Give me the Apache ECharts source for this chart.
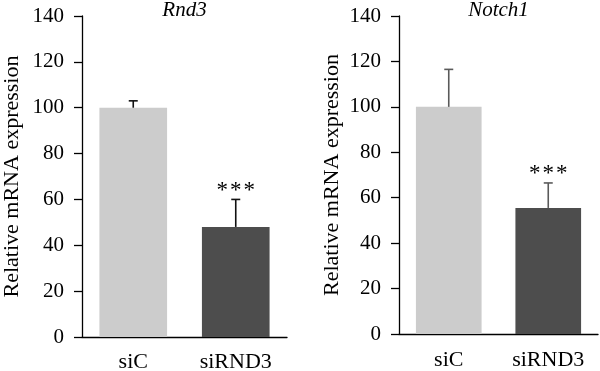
<!DOCTYPE html>
<html><head><meta charset="utf-8">
<script src="https://cdn.jsdelivr.net/npm/echarts@6/dist/echarts.min.js"></script>
<style>html,body{margin:0;padding:0;background:#fff}#c{width:600px;height:371px}</style>
</head><body><div id="c"></div>
<script>
const categories = ['siC', 'siRND3'];
const panelTitles = ['Rnd3', 'Notch1'];
const rnd3Mean = [100, 48];
const rnd3Err = [3, 12];
const notch1Mean = [100, 55.5];
const notch1Err = [16.5, 11];
const significance = ['', '***'];
const yMin = 0, yMax = 140, yStep = 20;
const yName = 'Relative mRNA expression';

const FONT = '"Liberation Serif", "DejaVu Serif", serif';
const barColors = ['#cccccc', '#4d4d4d'];
const errColors = ['#111111', '#5a5a5a'];
const grids = [
  {left: 82, width: 205, top: 16, height: 321, containLabel: false, outerBoundsMode: 'none'},
  {left: 399, width: 199, top: 16, height: 318, containLabel: false, outerBoundsMode: 'none'}
];
const means = [rnd3Mean, notch1Mean];
const errs = [rnd3Err, notch1Err];
const nameGaps = [59, 56];
const xLabelMargins = [14, 15];

const chart = echarts.init(document.getElementById('c'), null, {renderer: 'canvas'});
const option = {
  animation: false,
  backgroundColor: '#fff',
  title: panelTitles.map((t, i) => ({
    text: t, left: grids[i].left + grids[i].width / 2, textAlign: 'center', top: 0, padding: 0,
    textStyle: {fontFamily: FONT, fontSize: 21, fontStyle: 'italic', fontWeight: 'normal', color: '#000'}
  })),
  grid: grids,
  xAxis: grids.map((g, i) => ({
    type: 'category', gridIndex: i, data: categories,
    axisLine: {lineStyle: {color: '#000', width: 1.3}},
    axisTick: {show: false},
    axisLabel: {fontFamily: FONT, fontSize: 22, color: '#000', margin: xLabelMargins[i]}
  })),
  yAxis: grids.map((g, i) => ({
    type: 'value', gridIndex: i, min: yMin, max: yMax, interval: yStep,
    name: yName, nameLocation: 'middle', nameGap: nameGaps[i], nameRotate: 90,
    nameTextStyle: {fontFamily: FONT, fontSize: 22, color: '#000'},
    axisLine: {show: true, lineStyle: {color: '#000', width: 1.3}},
    axisTick: {show: true, inside: false, length: 8, lineStyle: {color: '#000', width: 1.3}},
    axisLabel: {fontFamily: FONT, fontSize: 21, color: '#000', margin: 18},
    splitLine: {show: false}
  })),
  series: []
};
for (let i = 0; i < 2; i++) {
  option.series.push({
    type: 'bar', xAxisIndex: i, yAxisIndex: i, barWidth: '66%',
    data: means[i].map((v, k) => ({value: v, itemStyle: {color: barColors[k]}}))
  });
  option.series.push({
    type: 'custom', xAxisIndex: i, yAxisIndex: i, z: 5,
    data: means[i].map((v, k) => [k, v, v + errs[i][k]]),
    renderItem: (params, api) => {
      const base = api.coord([api.value(0), api.value(1)]);
      const top = api.coord([api.value(0), api.value(2)]);
      const capHalf = 4.5;
      const children = [
        {type: 'line', shape: {x1: base[0], y1: base[1], x2: top[0], y2: top[1]}, style: {stroke: errColors[i], lineWidth: 1.6}},
        {type: 'line', shape: {x1: top[0] - capHalf, y1: top[1], x2: top[0] + capHalf, y2: top[1]}, style: {stroke: errColors[i], lineWidth: 1.6}}
      ];
      const sig = significance[params.dataIndex];
      if (sig) {
        const n = sig.length, gap = 13.5;
        for (let s = 0; s < n; s++) {
          children.push({type: 'text', style: {text: sig[s], x: top[0] + (s - (n - 1) / 2) * gap, y: top[1] + 3,
            align: 'center', verticalAlign: 'bottom', font: '23px ' + FONT, fill: '#000'}});
        }
      }
      return {type: 'group', children};
    }
  });
}
chart.setOption(option);
</script></body></html>
